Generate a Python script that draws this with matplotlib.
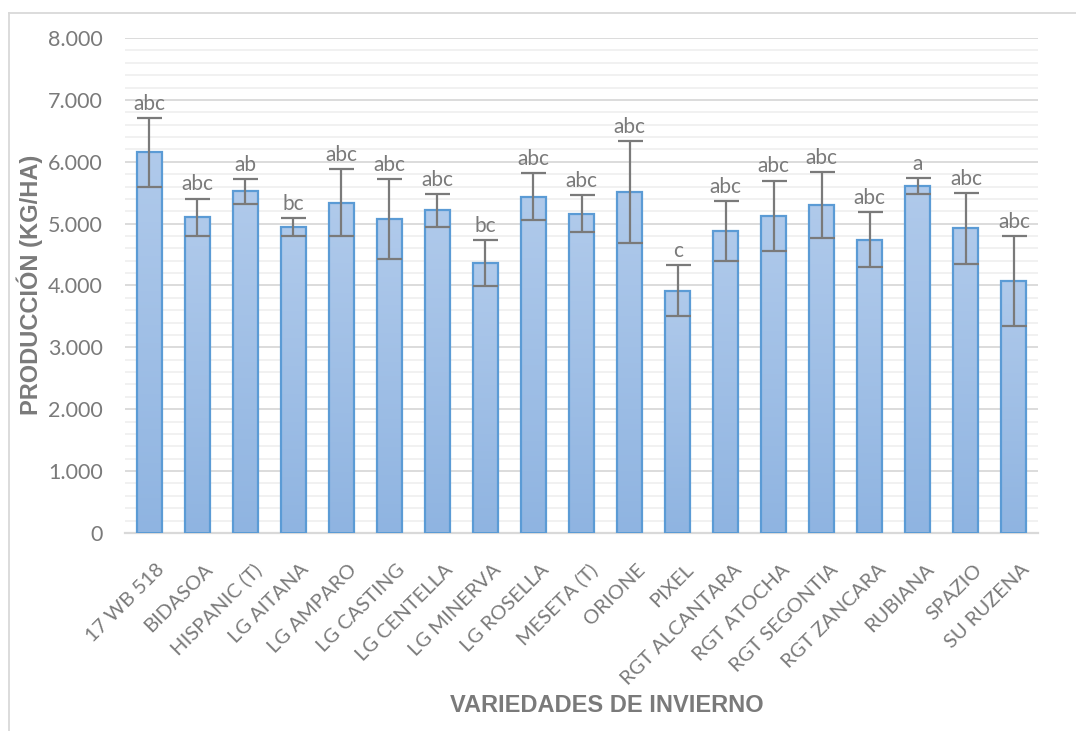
import numpy as np
import matplotlib
matplotlib.use('Agg')
import matplotlib.pyplot as plt
import matplotlib.transforms as mtransforms
from matplotlib.ticker import FuncFormatter, MultipleLocator
from matplotlib.lines import Line2D

# data
variedades = ["17 WB 518", "BIDASOA", "HISPANIC (T)", "LG AITANA", "LG AMPARO",
              "LG CASTING", "LG CENTELLA", "LG MINERVA", "LG ROSELLA", "MESETA (T)",
              "ORIONE", "PIXEL", "RGT ALCANTARA", "RGT ATOCHA", "RGT SEGONTIA",
              "RGT ZANCARA", "RUBIANA", "SPAZIO", "SU RUZENA"]
produccion = [6150, 5105, 5525, 4945, 5340, 5075, 5215, 4365, 5435, 5160,
              5505, 3915, 4880, 5125, 5305, 4740, 5605, 4925, 4070]
error = [550, 300, 200, 145, 540, 645, 265, 370, 380, 300,
         825, 410, 490, 570, 530, 445, 125, 575, 730]
letras = ["abc", "abc", "ab", "bc", "abc", "abc", "abc", "bc", "abc", "abc",
          "abc", "c", "abc", "abc", "abc", "abc", "a", "abc", "abc"]

gris = '#7a7a7a'
font = ['Lato', 'DejaVu Sans']

fig = plt.figure(figsize=(10.76, 7.31), dpi=100)
ax = fig.add_axes([0.1162, 0.2709, 0.8485, 0.6771])

x = np.arange(len(variedades))
ancho = 0.52

# gradient fill for the bars
grad = np.linspace(0, 1, 256).reshape(-1, 1)
cmap = matplotlib.colors.LinearSegmentedColormap.from_list('g', ['#8fb4e1', '#b0caeb'])
bars = ax.bar(x, produccion, width=ancho, facecolor='none', edgecolor='#5b9bd5',
              linewidth=1.6, zorder=3)
for b in bars:
    im = ax.imshow(grad, cmap=cmap, aspect='auto', origin='lower',
                   extent=[b.get_x(), b.get_x() + b.get_width(), 0, b.get_height()],
                   zorder=2)
    im.set_clip_path(b)

ax.errorbar(x, produccion, yerr=error, fmt='none', ecolor=gris, elinewidth=1.6,
            capsize=9, capthick=1.6, zorder=4)

for xi, v, e, l in zip(x, produccion, error, letras):
    ax.annotate(l, (xi, v + e), xytext=(0, 3), textcoords='offset points',
                ha='center', va='bottom', fontsize=15, color=gris, family=font)

ax.set_xlim(-0.5, len(variedades) - 0.5)
ax.set_ylim(0, 8000)
ax.yaxis.set_major_locator(MultipleLocator(1000))
ax.yaxis.set_minor_locator(MultipleLocator(200))
ax.yaxis.set_major_formatter(FuncFormatter(lambda v, p: f"{int(v):,}".replace(',', '.')))
ax.grid(axis='y', which='major', color='#d9d9d9', linewidth=1.3, zorder=0)
ax.grid(axis='y', which='minor', color='#eeeeee', linewidth=1.1, zorder=0)
ax.set_axisbelow(True)

for s in ['top', 'right', 'left']:
    ax.spines[s].set_visible(False)
ax.spines['bottom'].set_color('#d9d9d9')
ax.spines['bottom'].set_linewidth(1.6)

ax.tick_params(axis='both', which='both', length=0)
ax.tick_params(axis='y', pad=16, labelsize=15.5, labelcolor=gris)
for t in ax.get_yticklabels():
    t.set_family(font)

ax.set_xticks(x)
ax.set_xticklabels(variedades, rotation=45, ha='right', rotation_mode='anchor',
                   fontsize=14.5, color=gris, family=font)
ax.tick_params(axis='x', pad=20)
shift = mtransforms.ScaledTranslation(7 / 100, 0, fig.dpi_scale_trans)
for t in ax.get_xticklabels():
    t.set_transform(t.get_transform() + shift)

fig.text(30 / 1076, 1 - 285 / 731, 'PRODUCCIÓN (KG/HA)', rotation=90, fontsize=17,
         fontweight='bold', color=gris, family='Liberation Sans', ha='center', va='center')
fig.text(607 / 1076, 1 - 705 / 731, 'VARIEDADES DE INVIERNO', fontsize=17, fontweight='bold',
         color=gris, family='Liberation Sans', ha='center', va='center')

# outer chart frame (top and left edges visible)
fig.add_artist(Line2D([9 / 1076, 1], [1 - 13 / 731, 1 - 13 / 731], color='#d9d9d9', lw=1.3))
fig.add_artist(Line2D([9 / 1076, 9 / 1076], [0, 1 - 13 / 731], color='#d9d9d9', lw=1.3))

fig.savefig('out.png', dpi=100)
